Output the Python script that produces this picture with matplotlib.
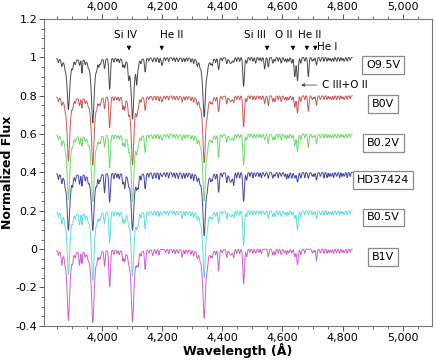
import numpy as np
import matplotlib
matplotlib.use("Agg")
import matplotlib.pyplot as plt
from matplotlib.ticker import MultipleLocator, FuncFormatter

# ======================================================
# DATA (line lists)
# ======================================================

WAVE_START = 3850
WAVE_END = 4832

# line centres (A), width (A) and profile kind (L = Lorentz, G = Gauss)
LINE_WAVE = [3867, 3889, 3926, 3934, 3970, 3995, 4009, 4026, 4070, 4076,
             4089, 4102, 4116, 4121, 4144, 4169, 4200, 4254, 4267, 4317,
             4340, 4350, 4367, 4388, 4415, 4428, 4438, 4471, 4481, 4511,
             4541, 4553, 4568, 4575, 4596, 4607, 4621, 4631, 4641, 4650,
             4661, 4686, 4699, 4713, 4726, 4762, 4780, 4805]

LINE_WIDTH = [2.0, 5.5, 2.0, 1.6, 5.5, 2.0, 2.0, 2.6, 2.0, 2.0,
              2.0, 5.5, 2.0, 2.0, 2.2, 2.0, 2.5, 2.0, 2.0, 2.0,
              5.5, 2.0, 2.0, 2.2, 2.0, 5.0, 2.0, 2.6, 2.0, 2.0,
              2.2, 2.0, 2.0, 2.0, 2.0, 2.0, 2.0, 2.0, 2.5, 2.5,
              2.0, 2.2, 2.0, 2.0, 2.0, 2.0, 2.0, 2.0]

LINE_KIND = ["G", "L", "G", "G", "L", "G", "G", "G", "G", "G",
             "G", "L", "G", "G", "G", "G", "G", "G", "G", "G",
             "L", "G", "G", "G", "G", "G", "G", "G", "G", "G",
             "G", "G", "G", "G", "G", "G", "G", "G", "G", "G",
             "G", "G", "G", "G", "G", "G", "G", "G"]

DEPTH_O95V = [0.03, 0.27, 0.03, 0.07, 0.34, 0.02, 0.05, 0.16, 0.04, 0.04,
              0.07, 0.32, 0.10, 0.03, 0.07, 0.02, 0.04, 0.02, 0.02, 0.03,
              0.31, 0.02, 0.03, 0.06, 0.03, 0.03, 0.02, 0.15, 0.03, 0.03,
              0.06, 0.05, 0.03, 0.02, 0.03, 0.02, 0.02, 0.03, 0.10, 0.12,
              0.03, 0.10, 0.02, 0.04, 0.02, 0.02, 0.02, 0.02]

DEPTH_B0V = [0.03, 0.34, 0.04, 0.05, 0.36, 0.03, 0.06, 0.16, 0.06, 0.06,
             0.05, 0.36, 0.06, 0.04, 0.07, 0.02, 0.03, 0.02, 0.03, 0.03,
             0.35, 0.03, 0.03, 0.08, 0.04, 0.03, 0.03, 0.16, 0.03, 0.02,
             0.04, 0.05, 0.03, 0.03, 0.03, 0.02, 0.02, 0.02, 0.06, 0.09,
             0.03, 0.08, 0.02, 0.05, 0.02, 0.02, 0.02, 0.02]

DEPTH_B02V = [0.04, 0.34, 0.04, 0.05, 0.35, 0.03, 0.06, 0.17, 0.05, 0.05,
              0.04, 0.35, 0.06, 0.04, 0.09, 0.02, 0.03, 0.02, 0.03, 0.03,
              0.35, 0.03, 0.03, 0.12, 0.04, 0.03, 0.03, 0.16, 0.03, 0.02,
              0.03, 0.05, 0.03, 0.03, 0.03, 0.02, 0.02, 0.02, 0.06, 0.09,
              0.03, 0.07, 0.02, 0.05, 0.02, 0.02, 0.02, 0.02]

DEPTH_HD37424 = [0.04, 0.30, 0.05, 0.06, 0.30, 0.03, 0.10, 0.15, 0.05, 0.07,
                 0.03, 0.30, 0.05, 0.06, 0.08, 0.03, 0.02, 0.03, 0.03, 0.03,
                 0.33, 0.03, 0.03, 0.10, 0.05, 0.05, 0.06, 0.15, 0.04, 0.02,
                 0.02, 0.03, 0.03, 0.02, 0.02, 0.02, 0.03, 0.03, 0.03, 0.05,
                 0.03, 0.03, 0.02, 0.04, 0.02, 0.02, 0.02, 0.02]

DEPTH_B05V = [0.05, 0.33, 0.06, 0.06, 0.36, 0.03, 0.06, 0.16, 0.05, 0.05,
              0.03, 0.34, 0.05, 0.05, 0.09, 0.02, 0.02, 0.02, 0.04, 0.03,
              0.35, 0.03, 0.03, 0.06, 0.04, 0.03, 0.03, 0.18, 0.03, 0.02,
              0.02, 0.04, 0.03, 0.03, 0.03, 0.02, 0.02, 0.02, 0.04, 0.10,
              0.03, 0.02, 0.02, 0.04, 0.02, 0.02, 0.02, 0.02]

DEPTH_B1V = [0.06, 0.37, 0.07, 0.06, 0.38, 0.03, 0.08, 0.19, 0.05, 0.05,
             0.02, 0.38, 0.04, 0.06, 0.10, 0.03, 0.00, 0.02, 0.04, 0.03,
             0.36, 0.03, 0.03, 0.11, 0.04, 0.03, 0.04, 0.18, 0.04, 0.02,
             0.00, 0.04, 0.03, 0.03, 0.03, 0.02, 0.02, 0.02, 0.04, 0.08,
             0.03, 0.00, 0.02, 0.06, 0.02, 0.02, 0.02, 0.02]

# small features seen along the continuum of every trace
WEAK_WAVE = [3856, 3878, 3903, 3912, 3945, 3955, 3983, 3990, 4040, 4050,
             4058, 4130, 4156, 4180, 4190, 4212, 4222, 4235, 4244, 4276,
             4285, 4296, 4305, 4326, 4362, 4378, 4400, 4448, 4458, 4492,
             4502, 4522, 4530, 4586, 4614, 4674, 4705, 4738, 4748, 4755,
             4770, 4790, 4798, 4815, 4825]
WEAK_DEPTH = [0.02, 0.015, 0.025, 0.02, 0.02, 0.015, 0.02, 0.025, 0.02, 0.015,
              0.02, 0.02, 0.015, 0.02, 0.025, 0.015, 0.02, 0.015, 0.02, 0.02,
              0.015, 0.02, 0.025, 0.015, 0.02, 0.02, 0.015, 0.02, 0.02, 0.015,
              0.02, 0.015, 0.02, 0.02, 0.025, 0.02, 0.015, 0.02, 0.02, 0.015,
              0.02, 0.02, 0.015, 0.02, 0.015]

STAR_NAMES = ["O9.5V", "B0V", "B0.2V", "HD37424", "B0.5V", "B1V"]
STAR_DEPTHS = [DEPTH_O95V, DEPTH_B0V, DEPTH_B02V,
               DEPTH_HD37424, DEPTH_B05V, DEPTH_B1V]
STAR_WEAK_SCALE = [1.0, 1.0, 1.0, 1.4, 1.1, 1.1]
STAR_OFFSETS = [0.0, -0.2, -0.4, -0.6, -0.8, -1.0]
STAR_LABEL_Y = [0.96, 0.755, 0.555, 0.36, 0.165, -0.04]
STAR_COLORS = ["#4a4a4a", "#c85a5a", "#6ddc6d", "#46469e", "#5fdede", "#cf5fcf"]

# top annotations
MARK_TEXT = ["Si IV", "He II", "Si III", "O II", "He II", "He I"]
MARK_ARROW_X = [4090, 4199, 4549, 4635, 4681, 4709]
MARK_TEXT_X = [4080, 4232, 4507, 4605, 4691, 4750]
MARK_TEXT_Y = [1.117, 1.117, 1.117, 1.117, 1.117, 1.054]

# ======================================================
# BUILD SPECTRA
# ======================================================

wave = np.arange(WAVE_START, WAVE_END, 0.8)


def spectrum(depths, weak_scale):
    flux = np.ones_like(wave)
    for c, w, d, k in zip(LINE_WAVE, LINE_WIDTH, depths, LINE_KIND):
        if k == "L":
            flux -= d / (1 + ((wave - c) / w) ** 2)
        else:
            flux -= d * np.exp(-0.5 * ((wave - c) / w) ** 2)
    for c, d in zip(WEAK_WAVE, WEAK_DEPTH):
        flux -= weak_scale * d * np.exp(-0.5 * ((wave - c) / 1.6) ** 2)
    return flux


# ======================================================
# PLOT
# ======================================================

fig = plt.figure(figsize=(4.36, 3.6), dpi=100)
ax = fig.add_axes([0.101, 0.095, 0.890, 0.852])

for name, depths, ws, off, col, ly in zip(STAR_NAMES, STAR_DEPTHS,
                                          STAR_WEAK_SCALE, STAR_OFFSETS,
                                          STAR_COLORS, STAR_LABEL_Y):
    ax.plot(wave, spectrum(depths, ws) + off, color=col, lw=0.7)
    ax.text(4935, ly, name, ha="center", va="center", fontsize=8,
            bbox=dict(boxstyle="square,pad=0.35", fc="white",
                      ec="#8a8a8a", lw=0.9))

for t, arr_x, tx, ty in zip(MARK_TEXT, MARK_ARROW_X, MARK_TEXT_X, MARK_TEXT_Y):
    ax.text(tx, ty, t, ha="center", va="center", fontsize=7.5)
    ax.annotate("", xy=(arr_x, 1.022), xytext=(arr_x, 1.064),
                arrowprops=dict(arrowstyle="-|>", color="black",
                                lw=0.6, mutation_scale=6))

ax.annotate("C III+O II", xy=(4652, 0.856), xytext=(4733, 0.856),
            va="center", ha="left", fontsize=7.5,
            arrowprops=dict(arrowstyle="-|>", color="#555555",
                            lw=0.6, mutation_scale=5))

ax.set_xlim(3808, 5097)
ax.set_ylim(-0.4, 1.2)

ax.xaxis.set_major_locator(MultipleLocator(200))
ax.xaxis.set_minor_locator(MultipleLocator(50))
ax.yaxis.set_major_locator(MultipleLocator(0.2))
ax.yaxis.set_minor_locator(MultipleLocator(0.05))

ax.xaxis.set_major_formatter(FuncFormatter(lambda v, p: f"{v:,.0f}"))
ax.yaxis.set_major_formatter(
    FuncFormatter(lambda v, p: f"{round(v, 2):g}" if abs(v) > 1e-9 else "0"))

ax.tick_params(which="both", direction="out", top=True, labeltop=True,
               right=False, labelsize=8, color="#555555", pad=1.5)
ax.tick_params(which="major", length=3.5, width=0.7)
ax.tick_params(which="minor", length=2, width=0.6)

for s in ax.spines.values():
    s.set_color("#777777")
    s.set_linewidth(0.8)

ax.set_xlabel("Wavelength (Å)", fontsize=9, fontweight="bold", labelpad=0)
ax.set_ylabel("Normalized Flux", fontsize=9, fontweight="bold", labelpad=1)

plt.savefig("out.png", dpi=100)
